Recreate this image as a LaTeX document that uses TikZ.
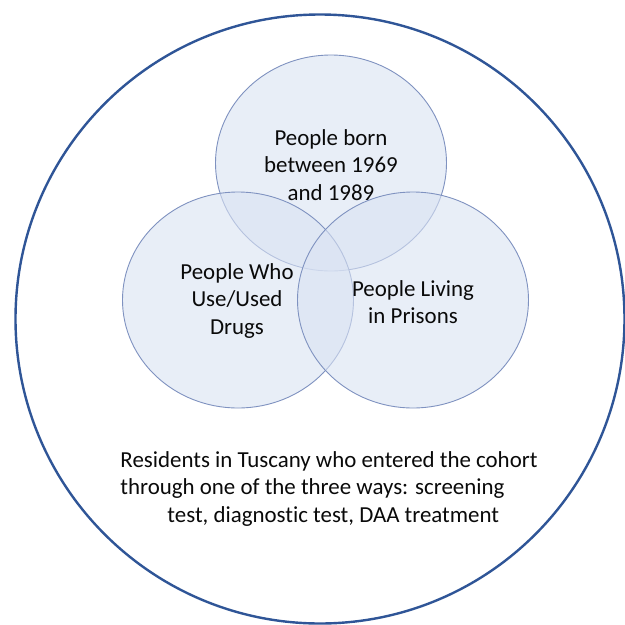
\documentclass[tikz,border=0pt]{standalone}
\usepackage{fontspec}
\setmainfont[Ligatures=CommonOff]{Carlito}
\usetikzlibrary{shapes.geometric}
\definecolor{outerblue}{HTML}{2F5597}
\definecolor{vennfill}{HTML}{DAE3F3}
\definecolor{vennline}{HTML}{7F92C0}
\definecolor{txt}{HTML}{0A0A0A}
\tikzset{
  venn/.style={ellipse, draw=vennline, line width=0.9pt, fill=vennfill, fill opacity=0.6,
    minimum width=231pt, minimum height=216pt, inner sep=0pt},
  outer/.style={circle, draw=outerblue, line width=2.4pt, minimum size=609pt, inner sep=0pt},
  lbl/.style={align=center, text=txt, inner sep=0pt,
    font=\fontsize{22.9pt}{27.3pt}\selectfont}
}
\begin{document}
\begin{tikzpicture}[x=1pt,y=-1pt]
\useasboundingbox (0,0) rectangle (625,625);
\fill[white] (0,0) rectangle (625,625);
\node[outer] (all) at (320,319) {};
\node[venn] (born) at (331,163) {};
\node[venn] (drugs) at (238,300) {};
\node[venn] (prison) at (413,300) {};
\node[lbl] (tborn) at (331,165) {People born\\between 1969\\and 1989};
\node[lbl] (tdrugs) at (237,301) {People Who\\Use/Used\\Drugs};
\node[lbl] (tprison) at (413,302) {People Living\\in Prisons};
\node[lbl, align=left] (tall) at (329,489) {Residents in Tuscany who entered the cohort\\through one of the three ways: screening\\\hspace*{47pt}test, diagnostic test, DAA treatment};
\end{tikzpicture}
\end{document}
